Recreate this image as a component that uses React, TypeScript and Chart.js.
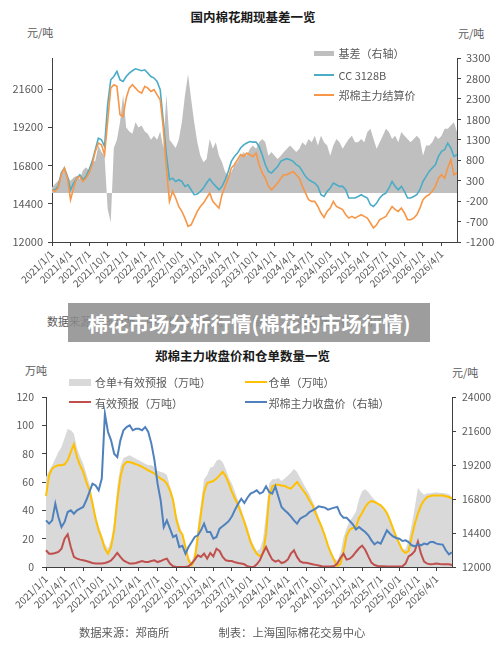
import React, { useEffect, useRef } from 'react';
import { Chart, registerables } from 'chart.js';

Chart.register(...registerables);

const FONT = '"Noto Sans CJK SC", "Noto Sans", sans-serif';
const AXIS = '#404040';
const TICK = '#595959';

// quarter tick labels (shared by both charts)
const quarterTicks = [
  '2021/1/1', '2021/4/1', '2021/7/1', '2021/10/1',
  '2022/1/1', '2022/4/1', '2022/7/1', '2022/10/1',
  '2023/1/1', '2023/4/1', '2023/7/1', '2023/10/1',
  '2024/1/1', '2024/4/1', '2024/7/1', '2024/10/1',
  '2025/1/1', '2025/4/1', '2025/7/1', '2025/10/1',
  '2026/1/1', '2026/4/1',
];

// half-month categories 2021/1/1 .. 2026/6/16
const dates: string[] = [];
for (let i = 0; i < 132; i++) {
  const y = 2021 + Math.floor(i / 24);
  const mo = (Math.floor(i / 2) % 12) + 1;
  dates.push(`${y}/${mo}/${i % 2 === 0 ? 1 : 16}`);
}

const topLeftTicks = [12000, 14400, 16800, 19200, 21600];
const topRightTicks = [-1200, -700, -200, 300, 800, 1300, 1800, 2300, 2800, 3300];
const bottomLeftTicks = [0, 20, 40, 60, 80, 100, 120];
const bottomRightTicks = [12000, 14400, 16800, 19200, 21600, 24000];

// ---- top chart: 国内棉花期现基差一览 ----
const zhengSettle = [
  15280, 15180, 15390, 16220, 16640, 16010, 14650, 15390, 16010, 16120,
  15800, 16010, 16330, 16850, 17690, 18210, 18100, 17480, 19570, 21660,
  21870, 21770, 19990, 19880, 21030, 21660, 21870, 21660, 21450, 21350,
  21770, 21660, 21450, 21560, 21240, 20930, 19150, 16640, 14550, 15180,
  14760, 14230, 13920, 13500, 12980, 13080, 13500, 13920, 14230, 14440,
  14760, 15070, 14550, 14340, 14130, 14970, 15490, 16010, 16640, 16850,
  17160, 17480, 17370, 17580, 17480, 17370, 17580, 16850, 16330, 16010,
  15490, 15280, 15490, 15700, 16010, 16220, 16220, 16330, 16430, 16220,
  16010, 15490, 15070, 14650, 14550, 14550, 14230, 13820, 13540, 13920,
  14130, 14550, 14230, 14130, 14030, 13710, 13500, 13610, 13500, 13610,
  13710, 13610, 13500, 13190, 12880, 13080, 13400, 13500, 13610, 13920,
  14230, 14030, 13920, 14130, 13820, 13400, 13400, 13500, 13710, 14130,
  14650, 14860, 14970, 15180, 15490, 16010, 16220, 16010, 16640, 17160,
  16220, 16330,
];

const cc3128b = [
  15280, 15280, 15490, 16330, 16640, 16120, 15280, 15700, 16010, 16220,
  15910, 16120, 16540, 17060, 17790, 18520, 18420, 18000, 20620, 22180,
  22390, 22710, 22180, 22080, 22390, 22600, 22750, 22870, 22810, 22750,
  22810, 22600, 22390, 22290, 22080, 21560, 19570, 17480, 15910, 16010,
  15800, 15910, 15800, 15490, 15590, 15280, 14970, 15010, 15180, 15390,
  15700, 15970, 15700, 15490, 15280, 15490, 15910, 16430, 17060, 17370,
  17580, 17900, 18100, 18210, 18310, 18270, 18270, 18000, 17480, 16850,
  16430, 16330, 16540, 16740, 17060, 17160, 17230, 17160, 17060, 16850,
  16740, 16430, 16120, 15910, 15800, 15700, 15490, 14970, 14860, 15180,
  15390, 15700, 15590, 15490, 15490, 15280, 14760, 14760, 14760, 14860,
  14970, 14860, 14760, 14340, 14230, 14440, 14760, 14970, 15070, 15390,
  15800, 15490, 15280, 15490, 15180, 14760, 14760, 14860, 14970, 15280,
  15800, 16120, 16430, 16640, 16850, 17370, 17690, 17790, 18210, 17900,
  17370, 17480,
];

const basis = [
  140, 220, 300, 420, 550, 420, 300, 380, 420, 340,
  550, 630, 550, 750, 790, 1160, 1000, 910, -390, -720,
  1100, 1300, 1730, 2400, 1600, 1500, 1450, 1730, 1600, 1650,
  1500, 1450, 1300, 1400, 1300, 1500, 1100, 2400, 1300, 1200,
  1100, 1300, 1730, 2380, 2900, 2300, 1730, 1240, 910, 750,
  830, 1320, 1080, 1240, 910, 750, 510, 420, 510, 670,
  750, 910, 1000, 910, 1080, 1160, 1080, 1240, 1320, 1240,
  910, 1000, 910, 830, 910, 1000, 1080, 1160, 1080, 1000,
  1080, 1240, 1160, 1320, 1240, 1400, 1160, 1400, 1240, 1160,
  910, 1160, 1320, 1240, 1080, 1200, 1320, 1400, 1240, 1240,
  1320, 1240, 1490, 1570, 1320, 1080, 1240, 1400, 1570, 1490,
  1320, 1400, 1240, 1490, 1400, 1320, 1240, 1320, 1400, 1320,
  910, 1160, 1160, 1240, 1400, 1320, 1400, 1570, 1570, 1650,
  1730, 1490,
];

// ---- bottom chart: 郑棉主力收盘价和仓单数量一览 ----
const closePrice = [
  15290, 15060, 15290, 16470, 15530, 14820, 15180, 15880, 16000, 15760,
  16000, 16120, 16240, 16710, 17290, 17880, 17760, 17410, 18240, 22820,
  21530, 20940, 20000, 19760, 20940, 21650, 21880, 22000, 21650, 21760,
  21760, 21650, 21880, 21530, 20710, 19530, 17880, 16710, 14820, 15290,
  14710, 14120, 14240, 13410, 13500, 12940, 13410, 13760, 14120, 14240,
  14590, 15060, 14470, 14470, 14000, 14120, 14710, 14870, 15060, 15250,
  15580, 16050, 16470, 16820, 16520, 16890, 17180, 17290, 17410, 17180,
  17290, 17690, 17290, 17180, 17690, 16940, 16240, 16000, 15810, 15580,
  15290, 15060, 15410, 15530, 15650, 15880, 16000, 16120, 16280, 16240,
  16190, 16050, 16120, 16190, 16240, 15720, 15480, 15480, 15250, 15010,
  14640, 14820, 14640, 14470, 14240, 13880, 13600, 13760, 13650, 14120,
  14590, 14350, 14160, 14050, 14000, 13840, 13880, 13760, 13530, 13460,
  13600, 13530, 13650, 13600, 13760, 13760, 13650, 13600, 13580, 13180,
  12890, 13040,
];

const warehouse = [
  50, 64.7, 69.4, 71.1, 71.8, 71.8, 72.5, 75.3, 81.2, 86.6,
  77.6, 71.8, 67.1, 60.0, 54.1, 44.7, 34.1, 25.9, 20.0, 12.9,
  9.4, 14.1, 25.9, 47.1, 63.5, 71.8, 74.1, 74.1, 73.4, 72.5,
  71.8, 70.6, 69.4, 68.2, 67.1, 65.9, 64.0, 62.4, 61.2, 58.8,
  54.1, 47.1, 34.1, 25.9, 23, 14.1, 4.7, 1.2, 5.9, 21.2,
  37.6, 52.9, 59.3, 60.0, 60.7, 62.4, 64.7, 67.1, 64.0, 58.8,
  52.9, 48.2, 43.5, 37.6, 31.8, 24.7, 17.6, 12.9, 9.4, 7.8,
  9.4, 23.5, 49.4, 56.9, 58.1, 58.1, 57.6, 57.2, 56.0, 55.3,
  57.6, 60, 57, 54, 51, 47, 43.5, 38, 33, 28,
  22, 15, 9.5, 4.7, 0.7, 2, 11, 22, 26.5, 27.5,
  28.2, 34.6, 38.1, 42.4, 45.2, 46.6, 45.9, 44.7, 43.5, 41.2,
  38.1, 32.9, 27.1, 21.2, 16.5, 11.8, 9.9, 11.3, 21.2, 30.6,
  37.6, 43.5, 47.1, 49.4, 50.1, 50.4, 50.4, 50.4, 50.4, 49.9,
  49.4, 48.2,
];

const forecast = [
  11.8, 9.4, 9.4, 9.9, 10.6, 12.9, 20.0, 23.1, 14.1, 7.1,
  5.9, 5.2, 4.7, 4.2, 3.5, 2.8, 2.4, 2.4, 2.4, 2.8,
  3.5, 4.7, 7.1, 9.9, 7.1, 4.7, 3.5, 2.4, 2.4, 2.8,
  3.5, 4.2, 3.5, 3.5, 4.2, 4.7, 3.5, 4.2, 5.2, 5.9,
  2.4, 0.5, 0, 0, 0, 0, 0.5, 2.4, 5.2, 8.2,
  7.1, 9.4, 5.9, 9.9, 7.5, 12.9, 11.3, 7.1, 4.7, 4.2,
  4.2, 3.3, 2.8, 2.4, 1.9, 0.5, 0, 0, 1.9, 4.7,
  9.9, 14.1, 9.4, 5.2, 3.8, 4.7, 2.8, 3.5, 5.2, 9.4,
  11.8, 7.1, 4, 3, 3, 2.5, 2, 1.5, 1, 0.5,
  0.3, 0.3, 0.3, 0.7, 2.4, 6.4, 9.4, 5.2, 5.9, 7.8,
  10.6, 13.2, 15.1, 12.2, 7.5, 3.1, 1.4, 0.7, 0.5, 0.5,
  0.3, 0.3, 0.3, 0.3, 0.3, 0.5, 2.4, 7.5, 8.9, 11.3,
  18, 9.4, 3.8, 2.4, 1.9, 2.1, 2.4, 2.1, 1.9, 1.9,
  1.9, 1.4,
];

const warehouseTotal = [
  63.5, 68.2, 71.8, 76.5, 81.2, 84.7, 91, 97.5, 96.5, 94,
  84, 78, 73, 66, 59, 49, 37, 29, 23, 16,
  13, 19, 33, 57, 71, 77, 78, 78.8, 77.6, 76.5,
  75.3, 74.1, 72.9, 71.8, 71.8, 70.6, 68, 67, 66.5, 65,
  57, 50, 38, 30, 24, 15, 7, 3.6, 11, 29,
  45, 62, 65, 70, 71, 75, 76, 74, 69, 63,
  58.8, 52.9, 47.1, 41.2, 34.1, 28.2, 20.5, 15.3, 11.3, 12.5,
  19.3, 37.6, 58.8, 62, 62, 62.8, 60.7, 62.4, 64.5, 66.6,
  69.4, 67, 63, 59, 55, 51.5, 46.5, 42, 35, 29,
  23, 16, 11, 6.5, 4.5, 10, 21, 27.5, 32.5, 35.5,
  39, 48, 53.5, 54.8, 53, 50, 47.5, 45.5, 44, 42,
  38.5, 33.5, 27.5, 21.5, 17, 12.5, 12.5, 19, 30, 42,
  56, 53, 51, 52, 52, 52.5, 52.8, 52.5, 52.3, 51.8,
  51.3, 49.6,
];

function xAxis(height: number) {
  return {
    type: 'category',
    afterBuildTicks: (s: any) => {
      s.ticks = quarterTicks.map((_, i) => ({ value: i * 6 }));
    },
    afterFit: (s: any) => {
      s.height = height;
    },
    ticks: {
      autoSkip: false,
      minRotation: 45,
      maxRotation: 45,
      padding: 2,
      color: TICK,
      font: { family: FONT, size: 10 },
      callback: (_v: any, i: number) => quarterTicks[i],
    },
    grid: { drawOnChartArea: false, drawTicks: true, tickLength: 4, color: AXIS },
    border: { display: true, color: AXIS },
  };
}

function yAxis(position: string, min: number, max: number, ticks: number[], width: number, padding: number, size: number) {
  return {
    type: 'linear',
    position,
    min,
    max,
    afterBuildTicks: (s: any) => {
      s.ticks = ticks.map((v) => ({ value: v }));
    },
    afterFit: (s: any) => {
      s.width = width;
    },
    ticks: {
      color: TICK,
      padding,
      font: { family: FONT, size },
      callback: (v: any) => String(v),
    },
    grid: { drawOnChartArea: false, drawTicks: true, tickLength: 4, color: AXIS },
    border: { display: true, color: AXIS },
  };
}

const baseOptions = (top: number) => ({
  responsive: false,
  animation: false,
  events: [],
  layout: { padding: { top, left: 0, right: 0, bottom: 0 } },
  plugins: { legend: { display: false }, tooltip: { enabled: false }, title: { display: false } },
});

const T = ({ x, y, size = 11, bold = false, color = '#595959', center = false, children }: any) => (
  <div
    style={{
      position: 'absolute',
      left: x,
      top: y,
      transform: center ? 'translate(-50%, -50%)' : 'translateY(-50%)',
      fontSize: size,
      fontWeight: bold ? 700 : 400,
      color,
      whiteSpace: 'pre',
      lineHeight: 1,
      fontFamily: FONT,
    }}
  >
    {children}
  </div>
);

const Swatch = ({ x, y, w, h, color }: any) => (
  <div style={{ position: 'absolute', left: x, top: y - h / 2, width: w, height: h, background: color }} />
);

export default function App() {
  const topRef = useRef<HTMLCanvasElement | null>(null);
  const botRef = useRef<HTMLCanvasElement | null>(null);

  useEffect(() => {
    const top = new Chart(topRef.current as HTMLCanvasElement, {
      type: 'line',
      data: {
        labels: dates,
        datasets: [
          { label: '郑棉主力结算价', data: zhengSettle, borderColor: '#f79646', borderWidth: 1.6, pointRadius: 0, yAxisID: 'y', fill: false, tension: 0 },
          { label: 'CC 3128B', data: cc3128b, borderColor: '#4bacc6', borderWidth: 1.6, pointRadius: 0, yAxisID: 'y', fill: false, tension: 0 },
          { label: '基差（右轴）', data: basis, borderColor: 'rgba(0,0,0,0)', borderWidth: 0, backgroundColor: '#bfbfbf', pointRadius: 0, yAxisID: 'y1', fill: 'origin', tension: 0 },
        ],
      },
      options: {
        ...baseOptions(58),
        scales: {
          x: xAxis(58),
          y: yAxis('left', 12000, 23550, topLeftTicks, 52, 5, 11),
          y1: yAxis('right', -1200, 3300, topRightTicks, 43, 5, 11),
        },
      } as any,
    });

    const bot = new Chart(botRef.current as HTMLCanvasElement, {
      type: 'line',
      data: {
        labels: dates,
        datasets: [
          { label: '郑棉主力收盘价（右轴）', data: closePrice, borderColor: '#4f81bd', borderWidth: 2, pointRadius: 0, yAxisID: 'y1', fill: false, tension: 0 },
          { label: '有效预报（万吨）', data: forecast, borderColor: '#c0504d', borderWidth: 2, pointRadius: 0, yAxisID: 'y', fill: false, tension: 0 },
          { label: '仓单（万吨）', data: warehouse, borderColor: '#ffc000', borderWidth: 2, pointRadius: 0, yAxisID: 'y', fill: false, tension: 0 },
          { label: '仓单+有效预报（万吨）', data: warehouseTotal, borderColor: 'rgba(0,0,0,0)', borderWidth: 0, backgroundColor: '#d9d9d9', pointRadius: 0, yAxisID: 'y', fill: 'origin', tension: 0 },
        ],
      },
      options: {
        ...baseOptions(52),
        scales: {
          x: xAxis(79),
          y: yAxis('left', 0, 120, bottomLeftTicks, 46, 8, 10.5),
          y1: yAxis('right', 12000, 24000, bottomRightTicks, 48, 6, 10.5),
        },
      } as any,
    });

    return () => {
      top.destroy();
      bot.destroy();
    };
  }, []);

  return (
    <div style={{ position: 'absolute', left: 0, top: 0, width: 500, height: 646, background: '#fff', overflow: 'hidden', fontFamily: FONT }}>
      {/* top chart */}
      <T x={253} y={16.5} size={12.5} bold color="#1a1a1a" center>国内棉花期现基差一览</T>
      <T x={27} y={31.5}>元/吨</T>
      <T x={458} y={33}>元/吨</T>
      <canvas ref={topRef} width={500} height={300} style={{ position: 'absolute', left: 0, top: 0, width: 500, height: 300 }} />
      <Swatch x={314} y={53.4} w={20} h={5.5} color="#bfbfbf" />
      <T x={338.5} y={53.3}>基差（右轴）</T>
      <Swatch x={314} y={74.5} w={20} h={2} color="#4bacc6" />
      <T x={338.5} y={75}>CC 3128B</T>
      <Swatch x={314} y={94.5} w={20} h={2} color="#f79646" />
      <T x={338.5} y={95}>郑棉主力结算价</T>
      <T x={47} y={321}>数据来源：郑商所、中国棉花信息网            制表：上海国际棉花交易中心</T>

      {/* bottom chart */}
      <T x={242.5} y={356} size={12.5} bold color="#1a1a1a" center>郑棉主力收盘价和仓单数量一览</T>
      <T x={25} y={370}>万吨</T>
      <T x={452} y={372}>元/吨</T>
      <canvas ref={botRef} width={500} height={301} style={{ position: 'absolute', left: 0, top: 345, width: 500, height: 301 }} />
      <Swatch x={69} y={382.5} w={22} h={7} color="#d9d9d9" />
      <T x={95} y={382.3}>仓单+有效预报（万吨）</T>
      <Swatch x={245} y={382.3} w={22} h={2} color="#ffc000" />
      <T x={268.5} y={382.3}>仓单（万吨）</T>
      <Swatch x={69} y={402.3} w={22} h={2} color="#c0504d" />
      <T x={95} y={402.7}>有效预报（万吨）</T>
      <Swatch x={245} y={402.3} w={22} h={2} color="#4f81bd" />
      <T x={268.5} y={402.7}>郑棉主力收盘价（右轴）</T>
      <T x={79} y={632.7} size={11.3}>数据来源：郑商所</T>
      <T x={218.5} y={632.7} size={11.3}>制表：上海国际棉花交易中心</T>

      {/* overlay banner */}
      <div
        style={{
          position: 'absolute',
          left: 68,
          top: 303,
          width: 362,
          height: 39,
          background: 'rgba(140,140,140,0.85)',
          display: 'flex',
          alignItems: 'center',
          justifyContent: 'center',
          color: '#fff',
          fontWeight: 700,
          fontSize: 20.5,
          fontFamily: FONT,
          whiteSpace: 'nowrap',
        }}
      >
        棉花市场分析行情(棉花的市场行情)
      </div>
    </div>
  );
}
